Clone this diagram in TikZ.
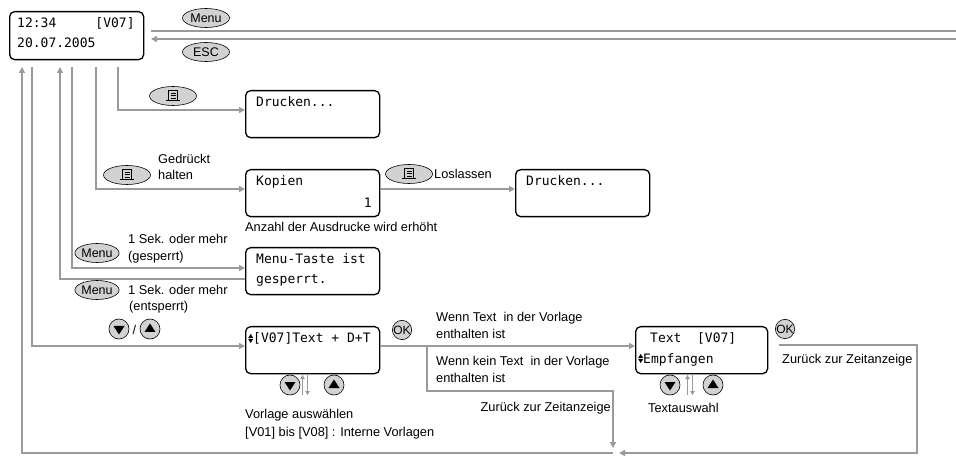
\documentclass[tikz,border=0pt]{standalone}
\usepackage{fontspec}
\setmainfont{Liberation Sans}
\newfontfamily\lcdfont{DejaVu Sans Mono}
\usetikzlibrary{shapes.geometric,arrows.meta}
\definecolor{ln}{HTML}{9A9A9A}
\definecolor{bf}{HTML}{D2D2D2}
\newcommand\udsym{\tikz[baseline=-0.5pt,x=1pt,y=1pt]{\fill (-2.5,4.5)--(2.5,4.5)--(0,8.5)--cycle; \fill (-2.5,3.5)--(2.5,3.5)--(0,-0.5)--cycle;}}
\tikzset{
 lcd/.style={draw,rounded corners=5pt,line width=1.3pt,minimum width=134pt,minimum height=47pt,anchor=north west,inner sep=0},
 lt/.style={font=\lcdfont\fontsize{13}{15}\selectfont,anchor=base west,inner sep=0},
 tx/.style={font=\fontsize{12.8}{14}\selectfont,anchor=base west,inner sep=0},
 btn/.style={ellipse,draw,fill=bf,line width=0.6pt,minimum width=47pt,minimum height=19pt,inner sep=0,font=\fontsize{12.5}{14}\selectfont},
 cb/.style={circle,draw,fill=bf,line width=0.6pt,minimum size=20pt,inner sep=0},
 con/.style={draw=ln,line width=1.5pt},
 arr/.style={con,-{Triangle[length=6pt,width=6pt]}},
 printicon/.pic={\draw[line width=0.7pt] (-4.5,-6) rectangle (4.5,4.5); \draw[line width=0.7pt] (-2.5,-3)--(2.5,-3) (-2.5,-0.5)--(2.5,-0.5) (-2.5,2)--(2.5,2) (-7,4.5)--(7,4.5);},
 dn/.pic={\fill (-5.5,-3)--(5.5,-3)--(0,5.5)--cycle;},
 up/.pic={\fill (-5.5,3)--(5.5,3)--(0,-5.5)--cycle;},
 updn/.pic={\draw[ln,line width=1.5pt,-{Triangle[length=4pt,width=4.5pt]}] (-2.5,10)--(-2.5,-10); \draw[ln,line width=1.5pt,-{Triangle[length=4pt,width=4.5pt]}] (2.5,-10)--(2.5,10);}
}
\begin{document}
\begin{tikzpicture}[x=1pt,y=-1pt]
\useasboundingbox (0,0) rectangle (956,462);
% boxes
\node[lcd,minimum height=48pt] (main) at (9,11) {};
\node[lt] (mainA) at (17,28) {12:34\ \ \ \ \ [V07]};
\node[lt] (mainB) at (17,48) {20.07.2005};
\node[lcd] (dr1) at (245,90) {};
\node[lt] (dr1t) at (256,107) {Drucken...};
\node[lcd] (kop) at (245,169) {};
\node[lt] (kopt) at (256,186) {Kopien};
\node[lt,anchor=base east] (kop1) at (372,208) {1};
\node[lcd] (dr2) at (515,169) {};
\node[lt] (dr2t) at (526,186) {Drucken...};
\node[lcd] (mt) at (245,247) {};
\node[lt] (mt1) at (256,264) {Menu-Taste ist};
\node[lt] (mt2) at (256,284) {gesperrt.};
\node[lcd] (vo) at (245,326) {};
\node[lt] (vot) at (248,343) {\udsym[V07]Text + D+T};
\node[lcd,minimum width=132pt] (te) at (635,326) {};
\node[lt] (te1) at (650,343) {Text\ \ [V07]};
\node[lt] (te2) at (638,363) {\udsym Empfangen};
% top lines
\coordinate (r1) at (956,31); \coordinate (r2) at (956,39);
\draw[con,line width=2pt] (151,31) -- (r1);
\draw[arr,line width=2pt] (r2) -- (151,39);
\node[btn] (bmenu) at (206,18) {Menu};
\node[btn] (besc) at (206,52) {ESC};
% left connectors
\draw[arr] (118,67) |- (dr1.west |- 0,110);
\draw[arr] (96,67) |- (kop.west |- 0,189);
\draw[arr] (kop.east |- 0,189) -- (dr2.west |- 0,189);
\draw[arr] (72,67) |- (mt.west |- 0,268);
\draw[arr] (mt.west |- 0,279) -| (60,67);
\draw[arr] (32,67) |- (vo.west |- 0,346);
% buttons on left
\node[btn] (bp1) at (173,96) {}; \pic at (bp1) {printicon};
\node[btn] (bp2) at (127,175) {}; \pic at (bp2) {printicon};
\node[tx] (g1) at (158,164) {Gedrückt};
\node[tx] (g2) at (158,180) {halten};
\node[btn] (bp3) at (409,174) {}; \pic at (bp3) {printicon};
\node[tx] (los) at (434,179) {Loslassen};
\node[tx] (anz) at (245,232) {Anzahl der Ausdrucke wird erhöht};
\node[btn,minimum width=44pt] (bm2) at (97,253) {Menu};
\node[tx] (s1) at (128,244) {1 Sek. oder mehr};
\node[tx] (s2) at (128,261) {(gesperrt)};
\node[btn,minimum width=44pt] (bm3) at (97,290) {Menu};
\node[tx] (s3) at (128,295) {1 Sek. oder mehr};
\node[tx] (s4) at (129,311) {(entsperrt)};
\node[cb] (d1) at (119,329) {}; \pic at (d1) {dn};
\node[tx,anchor=base] (sl) at (134.5,335) {/};
\node[cb] (u1) at (150,329) {}; \pic at (u1) {up};
% under V07
\node[cb] (d2) at (290,385) {}; \pic at (d2) {dn};
\pic at (305,385) {updn};
\node[cb] (u2) at (334,385) {}; \pic at (u2) {up};
\node[tx] (vl1) at (245,418) {Vorlage auswählen};
\node[tx] (vl2) at (245,436) {[V01] bis [V08] : Interne Vorlagen};
\node[cb,minimum size=17pt,font=\fontsize{12}{14}\selectfont] (ok1) at (402,330) {OK};
\node[tx] (w1) at (436,322) {Wenn Text\ \ in der Vorlage};
\node[tx] (w2) at (436,338) {enthalten ist};
\node[tx] (w3) at (436,366) {Wenn kein Text\ \ in der Vorlage};
\node[tx] (w4) at (436,382) {enthalten ist};
\node[tx,anchor=base east] (z1) at (611,411) {Zurück zur Zeitanzeige};
\draw[arr] (vo.east |- 0,346) -- (te.west |- 0,346);
\draw[arr] (427,346) |- (613,391) -- (613,448);
% under Text
\node[cb] (d3) at (670,385) {}; \pic at (d3) {dn};
\pic at (690,385) {updn};
\node[cb] (u3) at (713,385) {}; \pic at (u3) {up};
\node[tx] (ta) at (648,412) {Textauswahl};
\node[cb,minimum size=17pt,font=\fontsize{12}{14}\selectfont] (ok2) at (785,329) {OK};
\node[tx] (z2) at (782,363) {Zurück zur Zeitanzeige};
\coordinate (rc) at (917,345);
\draw[arr] (te.east |- 0,345) ++(11,0) -- (rc) |- (619,453);
\draw[arr] (613,453) -| (22,67);
\end{tikzpicture}
\end{document}
